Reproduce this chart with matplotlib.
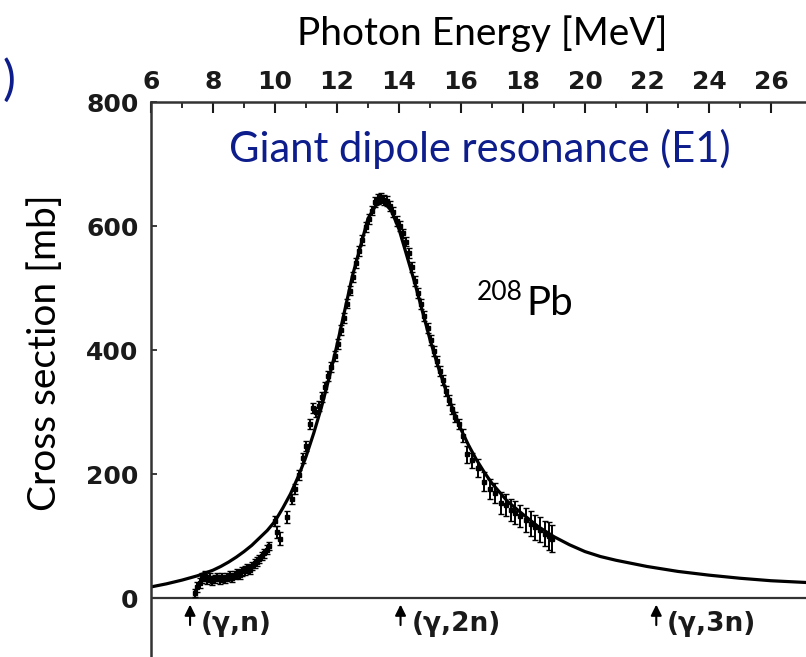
import matplotlib
matplotlib.use("Agg")
import matplotlib.pyplot as plt

# fitted Lorentzian curve (MeV, mb)
fit_e = [6, 6.5, 7, 7.5, 8, 8.25, 8.5, 8.75, 9, 9.25, 9.5, 9.75, 10, 10.25,
         10.5, 10.75, 11, 11.25, 11.5, 11.75, 12, 12.5, 13, 13.25, 13.5,
         13.75, 14, 14.5, 15, 15.25, 15.5, 15.75, 16, 16.25, 16.5, 16.75,
         17, 17.5, 18, 18.5, 19, 19.5, 20, 20.5, 21, 22, 23, 24, 25, 26, 27.2]
fit_s = [18, 23, 29, 36, 45, 51, 58, 66, 75, 85, 97, 109, 124, 145,
         168, 196, 228, 266, 308, 356, 408, 520, 612, 633, 639,
         625, 595, 510, 417, 375, 337, 303, 272, 246, 223, 203,
         185, 156, 135, 115, 99, 86, 75, 67, 61, 51, 43, 37, 32, 28, 25]

# measured points with error bars
data_e = [7.42, 7.50, 7.58, 7.66, 7.74, 7.82, 7.90, 7.98, 8.06, 8.14, 8.22,
          8.30, 8.38, 8.46, 8.54, 8.62, 8.70, 8.78, 8.86, 8.94, 9.02, 9.10,
          9.18, 9.26, 9.34, 9.42, 9.50, 9.58, 9.66, 9.74, 9.82,
          10.0, 10.08, 10.16, 10.38, 10.55, 10.65, 10.78, 10.9, 11.0, 11.12,
          11.22, 11.32, 11.42, 11.52, 11.62, 11.72, 11.82, 11.92, 12.02,
          12.12, 12.22, 12.32, 12.42, 12.52, 12.62, 12.72, 12.82, 12.92,
          13.02, 13.12, 13.22, 13.32, 13.42, 13.52, 13.62, 13.72, 13.82,
          13.92, 14.02, 14.12, 14.22, 14.32, 14.42, 14.52, 14.62, 14.72,
          14.82, 14.92, 15.02, 15.12, 15.22, 15.32, 15.42, 15.52, 15.62,
          15.72, 15.82, 15.92,
          16.05, 16.2, 16.35, 16.55, 16.75, 16.95, 17.1, 17.3, 17.45, 17.6,
          17.75, 17.9, 18.1, 18.25, 18.4, 18.55, 18.7, 18.85, 18.95]
data_s = [8, 18, 25, 32, 36, 30, 33, 28, 31, 34, 30,
          33, 31, 34, 36, 33, 37, 40, 38, 43, 45, 48,
          46, 52, 56, 59, 63, 68, 72, 78, 84,
          124, 107, 96, 131, 160, 176, 198, 226, 246, 280,
          306, 300, 310, 325, 340, 358, 372, 390, 410,
          432, 452, 475, 496, 518, 540, 560, 578, 598,
          612, 625, 638, 644, 646, 642, 640, 632, 622,
          608, 600, 588, 575, 556, 534, 512, 492, 474,
          455, 435, 416, 398, 382, 366, 352, 334, 320,
          305, 292, 280,
          262, 232, 222, 210, 188, 176, 170, 153, 150, 142,
          138, 132, 126, 120, 114, 110, 104, 100, 96]
data_err = [6, 8, 8, 8, 8, 7, 7, 7, 7, 7, 7,
            7, 7, 7, 7, 7, 7, 7, 7, 7, 7, 7,
            7, 7, 7, 7, 7, 7, 7, 7, 7,
            8, 10, 10, 10, 8, 8, 8, 8, 8, 8,
            8, 8, 8, 8, 8, 8, 8, 8, 8,
            8, 8, 8, 8, 8, 8, 8, 8, 8,
            8, 8, 8, 8, 8, 8, 8, 8, 8,
            8, 8, 8, 8, 8, 8, 8, 8, 8,
            8, 8, 8, 8, 8, 8, 8, 8, 8,
            8, 8, 8,
            10, 14, 12, 14, 15, 16, 16, 18, 18, 18,
            18, 18, 20, 20, 20, 20, 20, 22, 22]

# reaction thresholds
thr_e = [7.26, 14.05, 22.3]
thr_lbl = ["(γ,n)", "(γ,2n)", "(γ,3n)"]

x_ticks = list(range(6, 27, 2))
y_ticks = [0, 200, 400, 600, 800]

W, H = 806, 657
fig = plt.figure(figsize=(W / 100, H / 100), dpi=100)
ax = fig.add_axes([151 / W, 0, 1 - 151 / W, (H - 102) / H])
ax.set_xlim(6, 27.13)
ax.set_ylim(-95, 800)

ink = "#1a1a1a"
for s in ["right", "bottom"]:
    ax.spines[s].set_visible(False)
for s in ["top", "left"]:
    ax.spines[s].set_linewidth(1.8)
    ax.spines[s].set_color("#333333")

ax.xaxis.tick_top()
ax.set_xticks(x_ticks)
ax.set_xticks(range(7, 27, 2), minor=True)
ax.set_yticks(y_ticks)
ax.tick_params(axis="x", which="major", direction="in", length=8, width=1.5,
               pad=6, labelsize=18, colors=ink)
ax.tick_params(axis="x", which="minor", direction="in", length=4, width=1.3,
               colors=ink)
ax.tick_params(axis="y", direction="in", length=4, width=1.2, pad=9,
               labelsize=18, colors=ink)
for lab in ax.get_xticklabels() + ax.get_yticklabels():
    lab.set_fontweight("bold")

ax.axhline(0, color="#333333", lw=1.6)

ax.plot(fit_e, fit_s, color="black", lw=2.3)
ax.errorbar(data_e, data_s, yerr=data_err, fmt="s", ms=3.5, color="black",
            ecolor="black", elinewidth=1.4, capsize=2)

for e, lbl in zip(thr_e, thr_lbl):
    ax.annotate("", xy=(e, -6), xytext=(e, -48),
                arrowprops=dict(arrowstyle="-|>", color="black", lw=1.5,
                                mutation_scale=16))
    ax.text(e + 0.35, -42, lbl, fontsize=19, fontweight="bold",
            ha="left", va="center", color=ink)

navy = "#0d1e8c"
fig.text(482 / W, 1 - 34 / H, "Photon Energy [MeV]", family="Lato",
         fontsize=28, ha="center", va="center", color="black")
fig.text(480 / W, 1 - 162 / H, "Giant dipole resonance (E1)", family="Lato",
         fontsize=30, ha="center", va="baseline", color=navy)
fig.text(3 / W, 1 - 95 / H, ")", family="Lato", fontsize=35,
         ha="left", va="baseline", color=navy)
fig.text(45 / W, 1 - 353 / H, "Cross section [mb]", family="Lato",
         fontsize=28, rotation=90, ha="center", va="center", color="black")
fig.text(477 / W, 1 - 292 / H, "208", family="Lato", fontsize=19,
         ha="left", va="center", color="black")
fig.text(526 / W, 1 - 315 / H, "Pb", family="Lato", fontsize=29,
         ha="left", va="baseline", color="black")

fig.savefig("out.png", dpi=100)
